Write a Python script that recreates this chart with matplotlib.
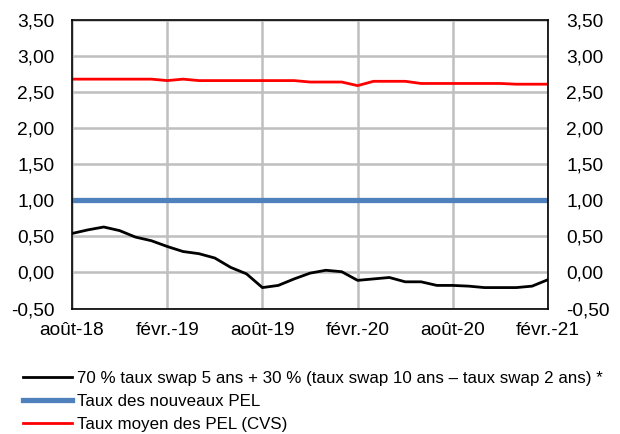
import matplotlib
matplotlib.use('Agg')
import matplotlib.pyplot as plt
import numpy as np

# monthly data, août 2018 -> févr. 2021
months = ['août-18', 'sept.-18', 'oct.-18', 'nov.-18', 'déc.-18', 'janv.-19',
          'févr.-19', 'mars-19', 'avr.-19', 'mai-19', 'juin-19', 'juil.-19',
          'août-19', 'sept.-19', 'oct.-19', 'nov.-19', 'déc.-19', 'janv.-20',
          'févr.-20', 'mars-20', 'avr.-20', 'mai-20', 'juin-20', 'juil.-20',
          'août-20', 'sept.-20', 'oct.-20', 'nov.-20', 'déc.-20', 'janv.-21',
          'févr.-21']
swap_mix = [0.54, 0.59, 0.63, 0.58, 0.49, 0.44, 0.36, 0.29, 0.26, 0.20, 0.07,
            -0.02, -0.21, -0.18, -0.09, -0.01, 0.03, 0.01, -0.11, -0.09, -0.07,
            -0.13, -0.13, -0.18, -0.18, -0.19, -0.21, -0.21, -0.21, -0.19, -0.10]
pel_new = [1.00] * len(months)
pel_avg = [2.68, 2.68, 2.68, 2.68, 2.68, 2.68, 2.66, 2.68, 2.66, 2.66, 2.66,
           2.66, 2.66, 2.66, 2.66, 2.64, 2.64, 2.64, 2.59, 2.65, 2.65, 2.65,
           2.62, 2.62, 2.62, 2.62, 2.62, 2.62, 2.61, 2.61, 2.61]

labels = ['70 % taux swap 5 ans + 30 % (taux swap 10 ans – taux swap 2 ans) *',
          'Taux des nouveaux PEL',
          'Taux moyen des PEL (CVS)']
yticks = np.arange(-0.5, 3.51, 0.5)

plt.rcParams['font.family'] = ['Liberation Sans', 'DejaVu Sans']
FS = 13.8

fig = plt.figure(figsize=(6.2, 4.34), dpi=100)
ax = fig.add_axes([72 / 620, 1 - 308.5 / 434, 476 / 620, 288.5 / 434])
x = np.arange(len(months))

l1, = ax.plot(x, swap_mix, color='black', lw=2)
l2, = ax.plot(x, pel_new, color='#4F81BD', lw=3.8)
l3, = ax.plot(x, pel_avg, color='#FF0000', lw=2)

ax.set_xlim(0, len(months) - 1)
ax.set_ylim(-0.5, 3.5)
ylabels = [f'{v:.2f}'.replace('.', ',') for v in yticks]
ax.set_yticks(yticks)
ax.set_yticklabels(ylabels, fontsize=FS)
tick_idx = list(range(0, len(months), 6))
ax.set_xticks(tick_idx)
ax.set_xticklabels([months[i] for i in tick_idx], fontsize=FS)
ax.tick_params(axis='y', length=0, pad=12.5)
ax.tick_params(axis='x', length=0, pad=10)
ax.grid(True, color='#BFBFBF', lw=1.8)
ax.set_axisbelow(True)
for s in ax.spines.values():
    s.set_color('black')
    s.set_linewidth(1.2)

ax2 = ax.twinx()
ax2.set_ylim(-0.5, 3.5)
ax2.set_yticks(yticks)
ax2.set_yticklabels(ylabels, fontsize=FS)
ax2.tick_params(length=0, pad=13)
for s in ax2.spines.values():
    s.set_visible(False)

fig.legend([l1, l2, l3], labels, loc='upper left', bbox_to_anchor=(23 / 620, 1 - 371 / 434),
           frameon=False, fontsize=12.2, handlelength=2.9, handletextpad=0.3,
           labelspacing=0.48, borderpad=0, borderaxespad=0)

fig.savefig('out.png', dpi=100)
